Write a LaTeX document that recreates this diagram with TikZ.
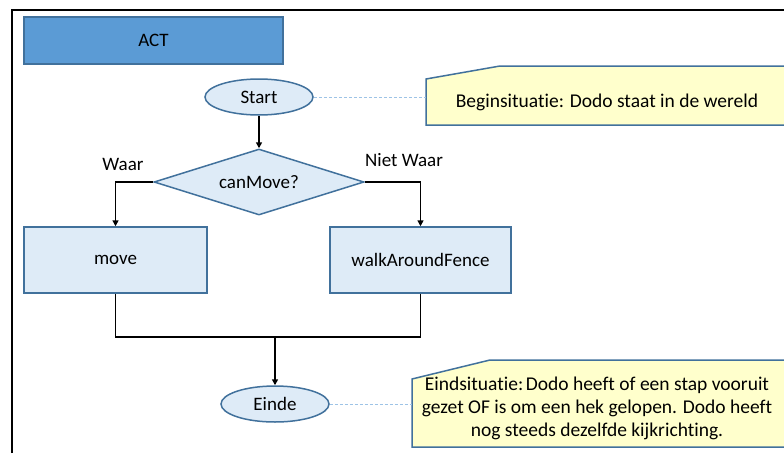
\documentclass[tikz,border=0pt]{standalone}
\usepackage{fontspec}
\setmainfont[Ligatures={NoCommon}]{Carlito}
\usetikzlibrary{arrows.meta,shapes.geometric}
\definecolor{actfill}{HTML}{5B9BD5}
\definecolor{bord}{HTML}{41719C}
\definecolor{lfill}{HTML}{DEEBF7}
\definecolor{nfill}{HTML}{FFFFCC}
\definecolor{dashcol}{HTML}{9DC3E6}
\tikzset{
  lbl/.style={font=\fontsize{19}{22}\selectfont, text=black},
  nlbl/.style={font=\fontsize{19.5}{23}\selectfont, text=black},
  term/.style={ellipse, draw=bord, fill=lfill, line width=1.5pt, minimum width=108pt, minimum height=36pt, inner sep=0pt, lbl},
  proc/.style={rectangle, draw=bord, fill=lfill, line width=1.5pt, inner sep=0pt, lbl},
  dec/.style={diamond, draw=bord, fill=lfill, line width=1.5pt, minimum width=210pt, minimum height=66pt, inner sep=0pt, aspect=3.2, lbl},
  flow/.style={line width=1.6pt, black},
  arr/.style={flow, -{Triangle[length=6pt,width=6pt]}},
  note/.style={draw=bord, fill=nfill, line width=1.5pt},
  dashln/.style={draw=dashcol, line width=0.8pt, dash pattern=on 3pt off 2pt}
}
\begin{document}
\begin{tikzpicture}[x=1pt,y=-1pt]
\useasboundingbox (0,0) rectangle (784,453);
\fill[white] (0,0) rectangle (784,453);
% frame
\draw[line width=2pt, black] (12,453) -- (12,10) -- (785,10);
% ACT
\node[draw=bord, fill=actfill, line width=1.2pt, minimum width=259pt, minimum height=47pt, inner sep=0pt, lbl] (act) at (153.5,40.5) {ACT};
% Start
\node[term] (start) at (259,97) {Start};
% note 1
\draw[note] (426,125) -- (426,79) -- (500,66) -- (790,66) -- (790,125) -- cycle;
\node[nlbl, anchor=center] (n1) at (607,102) {Beginsituatie: Dodo staat in de wereld};
\coordinate (n1l) at (426,97);
\draw[dashln] (start.east) -- (n1l);
% decision
\node[dec] (d) at (259,182) {canMove?};
\draw[arr] (start.south) -- (d.north);
% boxes
\node[proc, minimum width=183pt, minimum height=66pt] (mv) at (115.5,260) {move};
\node[proc, minimum width=181pt, minimum height=66pt] (wf) at (420.5,260) {walkAroundFence};
\draw[arr] (d.west) -| (mv.north);
\draw[arr] (d.east) -| (wf.north);
\node[lbl] (w) at (123,164) {Waar};
\node[lbl] (nw) at (404,160) {Niet Waar};
% merge
\coordinate (m) at (275,337);
\node[term] (end) at (275,404) {Einde};
\draw[flow] (mv.south) |- (m);
\draw[flow] (wf.south) |- (m);
\draw[arr] (m) -- (end.north);
% note 2
\draw[note] (412,447) -- (412,379) -- (490,360) -- (790,360) -- (790,447) -- cycle;
\node[nlbl, align=center] (n2) at (597,408) {Eindsituatie:\hspace{2.5pt}Dodo heeft of een stap vooruit\\gezet OF is om een hek gelopen. Dodo heeft\\nog steeds dezelfde kijkrichting.};
\coordinate (n2l) at (412,404);
\draw[dashln] (end.east) -- (n2l);
\end{tikzpicture}
\end{document}
